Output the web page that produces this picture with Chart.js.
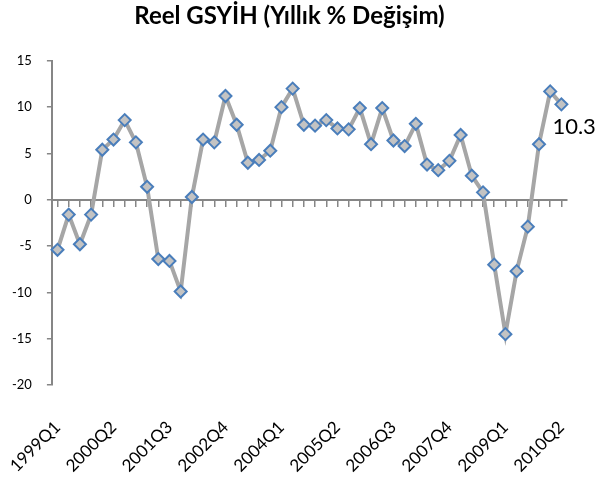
<!DOCTYPE html>
<html>
<head>
<meta charset="utf-8">
<script src="https://cdn.jsdelivr.net/npm/chart.js@4"></script>
<style>
  html, body { margin: 0; padding: 0; background: #fff; }
  #wrap { width: 597px; height: 478px; }
</style>
</head>
<body>
<div id="wrap"><canvas id="gdpChart" width="597" height="478"></canvas></div>
<script>
const quarters = [
  "1999Q1", "1999Q2", "1999Q3", "1999Q4", "2000Q1", "2000Q2", "2000Q3", "2000Q4",
  "2001Q1", "2001Q2", "2001Q3", "2001Q4", "2002Q1", "2002Q2", "2002Q3", "2002Q4",
  "2003Q1", "2003Q2", "2003Q3", "2003Q4", "2004Q1", "2004Q2", "2004Q3", "2004Q4",
  "2005Q1", "2005Q2", "2005Q3", "2005Q4", "2006Q1", "2006Q2", "2006Q3", "2006Q4",
  "2007Q1", "2007Q2", "2007Q3", "2007Q4", "2008Q1", "2008Q2", "2008Q3", "2008Q4",
  "2009Q1", "2009Q2", "2009Q3", "2009Q4", "2010Q1", "2010Q2"
]
const growth = [
  -5.4, -1.6, -4.8, -1.6, 5.4, 6.5, 8.6, 6.2,
  1.4, -6.4, -6.6, -9.9, 0.3, 6.5, 6.2, 11.2,
  8.1, 4.0, 4.3, 5.3, 10.0, 12.0, 8.1, 8.0,
  8.6, 7.7, 7.6, 9.9, 6.0, 9.9, 6.4, 5.8,
  8.2, 3.8, 3.2, 4.2, 7.0, 2.6, 0.8, -7.0,
  -14.5, -7.7, -2.9, 6.0, 11.7, 10.3
]
const yTicks = [-20, -15, -10, -5, 0, 5, 10, 15]
const labelEvery = 5

const font = "Lato, 'Open Sans', sans-serif"
const axisGray = "#868686"
const xPad = 24
const yPad = 15

// writes the last value next to its point
const lastValueLabel = {
  id: "lastValueLabel",
  afterDatasetsDraw(chart) {
    const meta = chart.getDatasetMeta(0)
    const pt = meta.data[meta.data.length - 1]
    const ctx = chart.ctx
    ctx.save()
    ctx.font = "22px " + font
    ctx.fillStyle = "#000"
    ctx.textAlign = "left"
    ctx.textBaseline = "middle"
    ctx.fillText(String(growth[growth.length - 1]), pt.x - 9, pt.y + 23)
    ctx.restore()
  }
}

new Chart(document.getElementById("gdpChart"), {
  type: "line",
  data: {
    labels: quarters,
    datasets: [
      {
        data: growth,
        borderColor: "#a6a6a6",
        borderWidth: 4,
        pointStyle: "rectRot",
        pointRadius: 6,
        pointBackgroundColor: "#c3c3c3",
        pointBorderColor: "#4a7ebb",
        pointBorderWidth: 2,
        tension: 0,
        xAxisID: "x"
      }
    ]
  },
  options: {
    responsive: false,
    animation: false,
    layout: { padding: { left: 12, right: 30, top: 0, bottom: 2 } },
    plugins: {
      legend: { display: false },
      tooltip: { enabled: false },
      title: {
        display: true,
        text: "Reel GSYİH (Yıllık % Değişim)",
        color: "#000",
        font: { family: font, size: 24, weight: "bold" },
        padding: { top: 2, bottom: 30 }
      }
    },
    scales: {
      x: {
        type: "category",
        position: "bottom",
        offset: true,
        grid: { display: false },
        border: { display: false },
        afterFit: (axis) => {
          axis.paddingLeft = 0
          axis.paddingRight = 0
          axis.height -= xPad
        },
        ticks: {
          autoSkip: false,
          minRotation: 45,
          maxRotation: 45,
          padding: xPad,
          color: "#000",
          font: { family: font, size: 17 },
          callback: (v, i) => (i % labelEvery === 0 ? quarters[i] : "")
        }
      },
      xZero: {
        type: "category",
        labels: quarters,
        position: { y: 0 },
        offset: true,
        grid: { drawOnChartArea: false, drawTicks: true, tickLength: 6, color: axisGray, lineWidth: 1.5 },
        border: { color: axisGray, width: 2 },
        ticks: { display: false, autoSkip: false }
      },
      y: {
        min: -20,
        max: 15,
        afterBuildTicks: (axis) => {
          axis.ticks = yTicks.map((v) => ({ value: v }))
        },
        afterFit: (axis) => {
          axis.width -= yPad
        },
        grid: { drawOnChartArea: false, tickLength: 5, color: axisGray, lineWidth: 1.5 },
        border: { color: axisGray, width: 2 },
        ticks: { padding: yPad, color: "#000", font: { family: font, size: 13 } }
      }
    }
  },
  plugins: [lastValueLabel]
})
</script>
</body>
</html>
